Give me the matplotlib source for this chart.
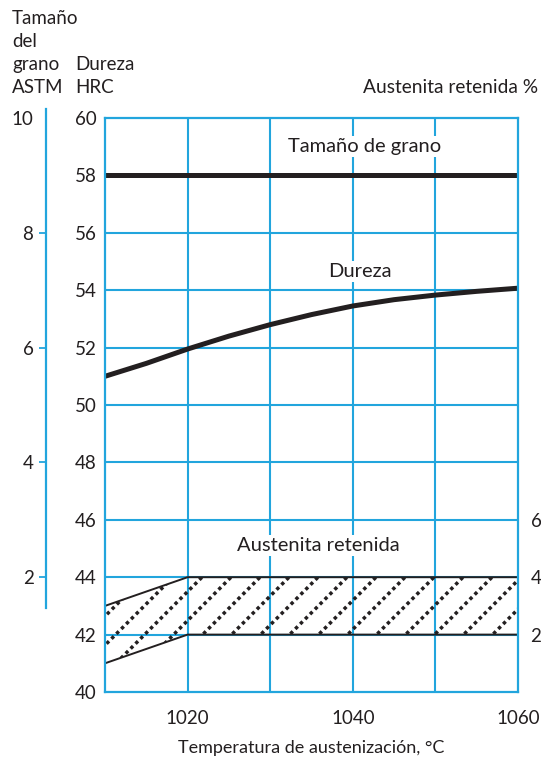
import numpy as np
import matplotlib
matplotlib.use("Agg")
import matplotlib.pyplot as plt

plt.rcParams["font.family"] = ["Lato", "DejaVu Sans"]

BLUE = "#22a5dd"
INK = "#231f20"

# hardness vs austenitizing temperature
temp_hard = [1010, 1015, 1020, 1025, 1030, 1035, 1040, 1045, 1050, 1055, 1060]
hrc = [51.0, 51.45, 51.95, 52.4, 52.8, 53.15, 53.45, 53.67, 53.83, 53.96, 54.07]

# grain size (ASTM), constant over the range
temp_grain = [1010, 1060]
grain_astm = [9, 9]

# retained austenite band (%)
temp_band = [1010, 1020, 1060]
aust_hi = [3, 4, 4]
aust_lo = [1, 2, 2]

hrc_ticks = [40, 42, 44, 46, 48, 50, 52, 54, 56, 58, 60]
astm_ticks = [2, 4, 6, 8, 10]
aust_ticks = [2, 4, 6]
temp_ticks = [1020, 1040, 1060]


def astm_to_hrc(a):
    return np.asarray(a, float) * 2 + 40


def hrc_to_astm(h):
    return (np.asarray(h, float) - 40) / 2


def aust_to_hrc(p):
    return np.asarray(p, float) + 40


def hrc_to_aust(h):
    return np.asarray(h, float) - 40


W, H = 541, 763
fig = plt.figure(figsize=(W / 100, H / 100), dpi=100)
ax = fig.add_axes([105 / W, 1 - 692 / H, 413 / W, 574 / H])
ax.set_xlim(1010, 1060)
ax.set_ylim(40, 60)

# grid
for t in [1020, 1030, 1040, 1050]:
    ax.axvline(t, color=BLUE, lw=1.5, zorder=1)
for h in hrc_ticks[1:-1]:
    ax.axhline(h, color=BLUE, lw=1.5, zorder=1)
for s in ax.spines.values():
    s.set_color(BLUE)
    s.set_linewidth(1.6)
    s.set_zorder(6)

ax.set_yticks(hrc_ticks)
ax.set_xticks(temp_ticks)
ax.tick_params(axis="y", length=0, pad=6, labelsize=13.5, labelcolor=INK)
ax.tick_params(axis="x", length=0, pad=13, labelsize=13.5, labelcolor=INK)
ax.set_xlabel("Temperatura de austenización, °C", fontsize=13, color=INK, labelpad=9)

# curves
ax.plot(temp_grain, astm_to_hrc(grain_astm), color=INK, lw=3.6,
        solid_capstyle="butt", zorder=4)
ax.plot(temp_hard, hrc, color=INK, lw=3.6, solid_capstyle="butt", zorder=4)

# retained austenite band with dotted diagonal hatching (grid stays visible)
hi = aust_to_hrc(aust_hi)
lo = aust_to_hrc(aust_lo)
poly_x = list(temp_band) + list(temp_band[::-1])
poly_y = list(hi) + list(lo[::-1])
band = ax.fill(poly_x, poly_y, facecolor="none", edgecolor=INK, lw=1.4, zorder=3)[0]

tr = ax.transData
x0_px, y_lo_px = tr.transform((temp_band[0], lo.min()))
x1_px, y_hi_px = tr.transform((temp_band[-1], hi.max()))
rise = y_hi_px - y_lo_px
step = 29
for c in np.arange(x0_px + 10 - rise - step * 2, x1_px + step, step):
    pts = tr.inverted().transform([(c, y_lo_px), (c + rise, y_hi_px)])
    ln, = ax.plot(pts[:, 0], pts[:, 1], color=INK, lw=2.5,
                  linestyle=(0, (1.0, 1.0)), dash_capstyle="butt", zorder=3.5)
    ln.set_clip_path(band)

# in-plot labels
box = dict(facecolor="white", edgecolor="none", pad=1.5)
ax.text(1041.4, 59.0, "Tamaño de grano", ha="center", va="center",
        fontsize=14.5, color=INK, bbox=box, zorder=5)
ax.text(1040.8, 54.65, "Dureza", ha="center", va="center",
        fontsize=14.5, color=INK, bbox=box, zorder=5)
ax.text(1035.8, 45.1, "Austenita retenida", ha="center", va="center",
        fontsize=14.5, color=INK, bbox=box, zorder=5)

# ASTM grain size scale on the far left
sec_l = ax.secondary_yaxis(-59 / 413, functions=(hrc_to_astm, astm_to_hrc))
sec_l.set_yticks(astm_ticks)
sec_l.spines["left"].set_color(BLUE)
sec_l.spines["left"].set_linewidth(1.6)
sec_l.spines["left"].set_bounds(1.47, 10.16)
sec_l.tick_params(axis="y", length=5, width=1.3, color=BLUE, pad=4,
                  labelsize=13.5, labelcolor=INK)
sec_l.yaxis.get_major_ticks()[-1].tick1line.set_visible(False)

# retained austenite scale on the right
sec_r = ax.secondary_yaxis("right", functions=(hrc_to_aust, aust_to_hrc))
sec_r.set_yticks(aust_ticks)
sec_r.spines["right"].set_visible(False)
sec_r.tick_params(axis="y", length=0, pad=9, labelsize=13.5, labelcolor=INK)

# axis headings
fig.text(12 / W, 1 - 93 / H, "Tamaño\ndel\ngrano\nASTM", ha="left", va="baseline",
         fontsize=13.5, color=INK, linespacing=1.42)
fig.text(75 / W, 1 - 93 / H, "Dureza\nHRC", ha="left", va="baseline",
         fontsize=13.5, color=INK, linespacing=1.42)
fig.text(538 / W, 1 - 93 / H, "Austenita retenida %", ha="right", va="baseline",
         fontsize=13.8, color=INK)

fig.savefig("out.png", dpi=100)
